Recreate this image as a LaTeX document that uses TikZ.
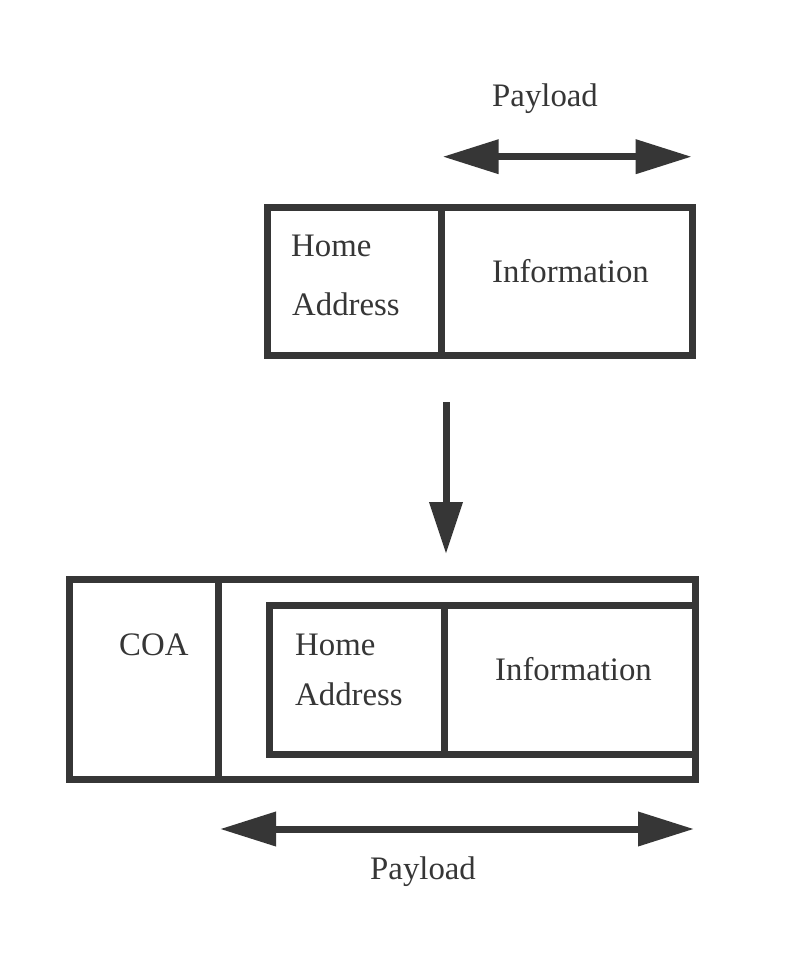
\documentclass[tikz,border=0pt]{standalone}
\usepackage{fontspec}
\setmainfont{Liberation Serif}
\usetikzlibrary{arrows.meta}
\definecolor{ink}{HTML}{363636}
\begin{document}
\begin{tikzpicture}[x=1pt,y=-1pt,
  cell/.style={draw=ink, line width=7pt, inner sep=0pt, outer sep=0pt},
  lbl/.style={text=ink, font=\fontsize{32.8}{38}\selectfont, inner sep=0pt, anchor=base west},
  fat/.style={draw=ink, line width=7pt, -{Triangle[length=52pt,width=32pt]}},
  dbl/.style={draw=ink, line width=7pt, {Triangle[length=56pt,width=33pt]}-{Triangle[length=56pt,width=33pt]}}]
\fill[white] (0,0) rectangle (811,964);
\useasboundingbox (0,0) rectangle (811,964);
% top packet
\node[cell, minimum width=174.2pt, minimum height=148pt] (ha1) at (354.6,281) {};
\node[cell, minimum width=251pt, minimum height=148pt] (in1) at (567.2,281) {};
\node[lbl] (home1) at (291,256.7) {Home};
\node[lbl] (addr1) at (292,315) {Address};
\node[lbl] (info1) at (492,282) {Information};
\node[lbl] (pay1) at (492,106.7) {Payload};
\coordinate (pl1) at (442.7,156.7);
\coordinate (pr1) at (691.7,156.7);
\draw[dbl] (pl1) -- (pr1);
% down arrow
\coordinate (dtop) at (446,402);
\coordinate (dtip) at (446,554);
\draw[fat] (dtop) -- (dtip);
% bottom packet
\node[cell, minimum width=625.5pt, minimum height=200pt] (outer) at (382.25,679.6) {};
\node[cell, minimum width=149.2pt, minimum height=200pt] (coa) at (144.1,679.6) {};
\node[cell, minimum width=174.7pt, minimum height=149pt] (ha2) at (356.85,680) {};
\node[cell, minimum width=250.8pt, minimum height=149pt] (in2) at (569.6,680) {};
\node[lbl] (coat) at (119,655) {COA};
\node[lbl] (home2) at (295,655) {Home};
\node[lbl] (addr2) at (295,705) {Address};
\node[lbl] (info2) at (495,680) {Information};
\node[lbl] (pay2) at (370,879) {Payload};
\coordinate (pl2) at (220,829);
\coordinate (pr2) at (694,829);
\draw[dbl] (pl2) -- (pr2);
\end{tikzpicture}
\end{document}
